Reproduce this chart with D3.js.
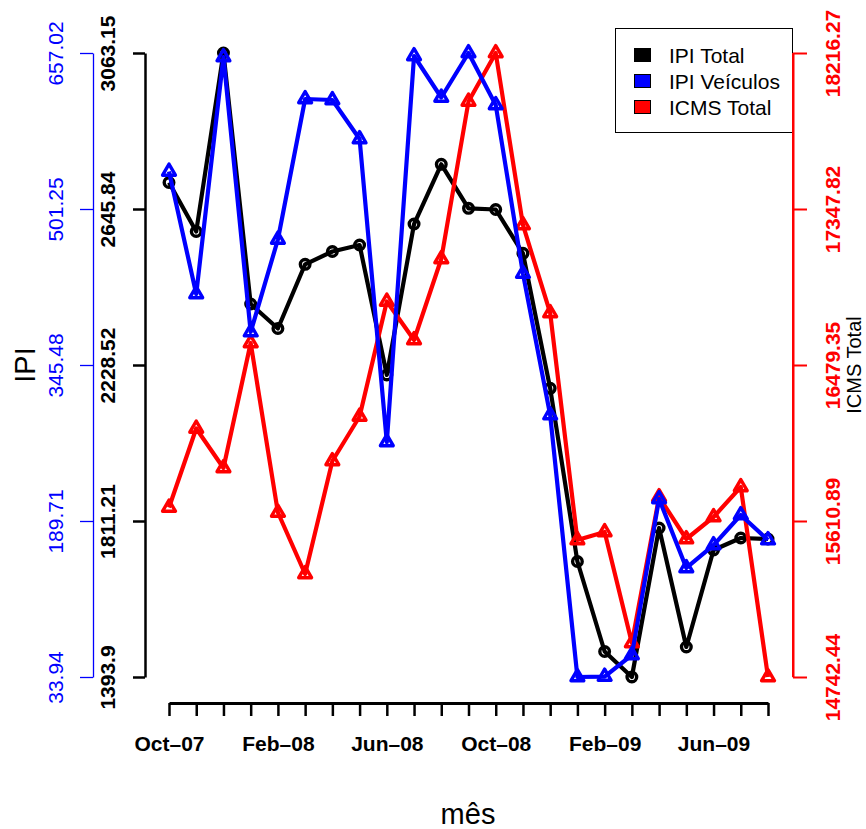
<!DOCTYPE html>
<html>
<head>
<meta charset="utf-8">
<script src="https://cdn.jsdelivr.net/npm/d3@7"></script>
<style>
  html, body { margin: 0; padding: 0; background: #fff; }
  svg { display: block; font-family: "Liberation Sans", Arial, Helvetica, sans-serif; }
</style>
</head>
<body>
<svg id="chart" width="866" height="829"></svg>
<script>
// ---- data ----
const months = ["Oct-07","Nov-07","Dec-07","Jan-08","Feb-08","Mar-08","Apr-08","May-08","Jun-08","Jul-08","Aug-08","Sep-08",
                "Oct-08","Nov-08","Dec-08","Jan-09","Feb-09","Mar-09","Apr-09","May-09","Jun-09","Jul-09","Aug-09"];
const monthLabels = ["Oct\u201307","","","","Feb\u201308","","","","Jun\u201308","","","","Oct\u201308","","","","Feb\u201309","","","","Jun\u201309","",""];
const ipiTotal = [2716.7, 2585.7, 3063.15, 2391.7, 2326.2, 2497.9, 2532.1, 2549.5, 2201.8, 2605.7, 2765.4, 2647.7,
                  2644.5, 2527.3, 2166.2, 1702.9, 1462.1, 1393.9, 1792.5, 1474.2, 1733.6, 1765.7, 1763.0];
const ipiVeiculos = [538.7, 416.4, 653.0, 378.4, 470.8, 611.1, 610.1, 571.1, 268.6, 654.0, 612.6, 657.02,
                     605.1, 436.8, 295.5, 33.94, 34.4, 55.9, 211.7, 142.8, 165.7, 195.7, 170.7];
const icmsTotal = [15686.1, 16125.9, 15906.0, 16601.9, 15658.2, 15315.9, 15944.9, 16192.7, 16832.9, 16618.6, 17069.5, 17946.3,
                   18216.27, 17258.8, 16768.9, 15505.2, 15549.7, 14931.7, 15744.5, 15510.7, 15633.2, 15800.2, 14742.44];
const ipiTotalTicks = [1393.9, 1811.21, 2228.52, 2645.84, 3063.15];
const ipiVeiculosTicks = [33.94, 189.71, 345.48, 501.25, 657.02];
const icmsTicks = [14742.44, 15610.89, 16479.35, 17347.82, 18216.27];
const legendNames = ["IPI Total", "IPI Ve\u00edculos", "ICMS Total"];
const legendColors = ["#000000", "#0000ff", "#ff0000"];

// ---- layout ----
const svg = d3.select("#chart");
const plotTop = 53, plotBottom = 677;
const x = d3.scalePoint().domain(months).range([169, 768]);
const yTot = d3.scaleLinear().domain([ipiTotalTicks[0], ipiTotalTicks[4]]).range([plotBottom, plotTop]);
const yVei = d3.scaleLinear().domain([ipiVeiculosTicks[0], ipiVeiculosTicks[4]]).range([plotBottom, plotTop]);
const yIcms = d3.scaleLinear().domain([icmsTicks[0], icmsTicks[4]]).range([plotBottom, plotTop]);

function styleAxis(g, color, domainWidth, tickWidth) {
  g.select(".domain").attr("stroke", color).attr("stroke-width", domainWidth);
  g.selectAll(".tick line").attr("stroke", color).attr("stroke-width", tickWidth);
  g.selectAll(".tick text").attr("fill", color);
}

// Black IPI Total axis
const gTot = svg.append("g").attr("transform", "translate(145,0)")
  .call(d3.axisLeft(yTot).tickValues(ipiTotalTicks).tickFormat((d,i) => String(ipiTotalTicks[i])).tickSize(12).tickSizeOuter(0));
styleAxis(gTot, "#000", 2.5, 2.5);
gTot.selectAll(".tick text").attr("x", null).attr("dy", null).attr("y", null)
  .attr("text-anchor", "middle").attr("transform", "translate(-30,0) rotate(-90)")
  .style("font-size", "21px").style("font-weight", "bold");

// Blue IPI Veiculos axis
const gVei = svg.append("g").attr("transform", "translate(93,0)")
  .call(d3.axisLeft(yVei).tickValues(ipiVeiculosTicks).tickFormat((d,i) => String(ipiVeiculosTicks[i])).tickSize(13).tickSizeOuter(0));
styleAxis(gVei, "#0000ff", 1.3, 1.3);
gVei.selectAll(".tick text").attr("x", null).attr("dy", null).attr("y", null)
  .attr("text-anchor", "middle").attr("transform", "translate(-30,0) rotate(-90)")
  .style("font-size", "21px");

// Red ICMS axis
const gIcms = svg.append("g").attr("transform", "translate(793,0)")
  .call(d3.axisRight(yIcms).tickValues(icmsTicks).tickFormat((d,i) => String(icmsTicks[i])).tickSize(14).tickSizeOuter(0));
styleAxis(gIcms, "#ff0000", 2, 2);
gIcms.selectAll(".tick text").attr("x", null).attr("dy", null).attr("y", null)
  .attr("text-anchor", "middle").attr("transform", "translate(47,0) rotate(-90)")
  .style("font-size", "21px").style("font-weight", "bold");

// X axis
const gx = svg.append("g").attr("transform", "translate(0,703)")
  .call(d3.axisBottom(x).tickFormat((d,i) => monthLabels[i]).tickSize(13).tickSizeOuter(0));
styleAxis(gx, "#000", 3, 2.5);
gx.selectAll(".tick text").attr("y", 48).attr("dy", null)
  .style("font-size", "21px").style("font-weight", "bold");

// Axis titles
svg.append("text").attr("transform", "translate(35,365) rotate(-90)").attr("text-anchor", "middle")
  .style("font-size", "29px").text("IPI");
svg.append("text").attr("transform", "translate(861,365) rotate(-90)").attr("text-anchor", "middle")
  .style("font-size", "20px").text("ICMS Total");
svg.append("text").attr("x", 468).attr("y", 824).attr("text-anchor", "middle")
  .style("font-size", "29px").text("m\u00eas");

// ---- series ----
function triPath(r) {
  const h = r * Math.sqrt(3) / 2;
  return `M0,${-r}L${h},${r/2}L${-h},${r/2}Z`;
}
function drawSeries(values, yScale, color, shape) {
  const g = svg.append("g");
  const line = d3.line().x((d,i) => x(months[i])).y(d => yScale(d));
  g.append("path").datum(values).attr("d", line).attr("fill", "none")
    .attr("stroke", color).attr("stroke-width", 4.2).attr("stroke-linejoin", "round");
  if (shape === "circle") {
    g.selectAll("circle").data(values).join("circle")
      .attr("cx", (d,i) => x(months[i])).attr("cy", d => yScale(d)).attr("r", 4.8)
      .attr("fill", "none").attr("stroke", color).attr("stroke-width", 3.4);
  } else {
    g.selectAll("path.tri").data(values).join("path").attr("class", "tri")
      .attr("transform", (d,i) => `translate(${x(months[i])},${yScale(d)})`)
      .attr("d", triPath(7.4)).attr("fill", "none").attr("stroke", color)
      .attr("stroke-width", 3.4).attr("stroke-linejoin", "round");
  }
}
drawSeries(ipiTotal, yTot, "#000000", "circle");
drawSeries(icmsTotal, yIcms, "#ff0000", "tri");
drawSeries(ipiVeiculos, yVei, "#0000ff", "tri");

// ---- legend ----
const lg = svg.append("g");
lg.append("rect").attr("x", 615.5).attr("y", 28.5).attr("width", 177).attr("height", 104)
  .attr("fill", "#fff").attr("stroke", "#000").attr("stroke-width", 1);
legendNames.forEach((name, i) => {
  const cy = 55 + i * 26;
  lg.append("rect").attr("x", 634.5).attr("y", cy - 6.5).attr("width", 16).attr("height", 13)
    .attr("fill", legendColors[i]).attr("stroke", "#000").attr("stroke-width", 1);
  lg.append("text").attr("x", 669).attr("y", cy + 7.5).style("font-size", "21px").text(name);
});
// redraw red axis line over legend border
svg.append("line").attr("x1", 793).attr("x2", 793).attr("y1", plotTop).attr("y2", plotBottom)
  .attr("stroke", "#ff0000").attr("stroke-width", 2);
</script>
</body>
</html>
